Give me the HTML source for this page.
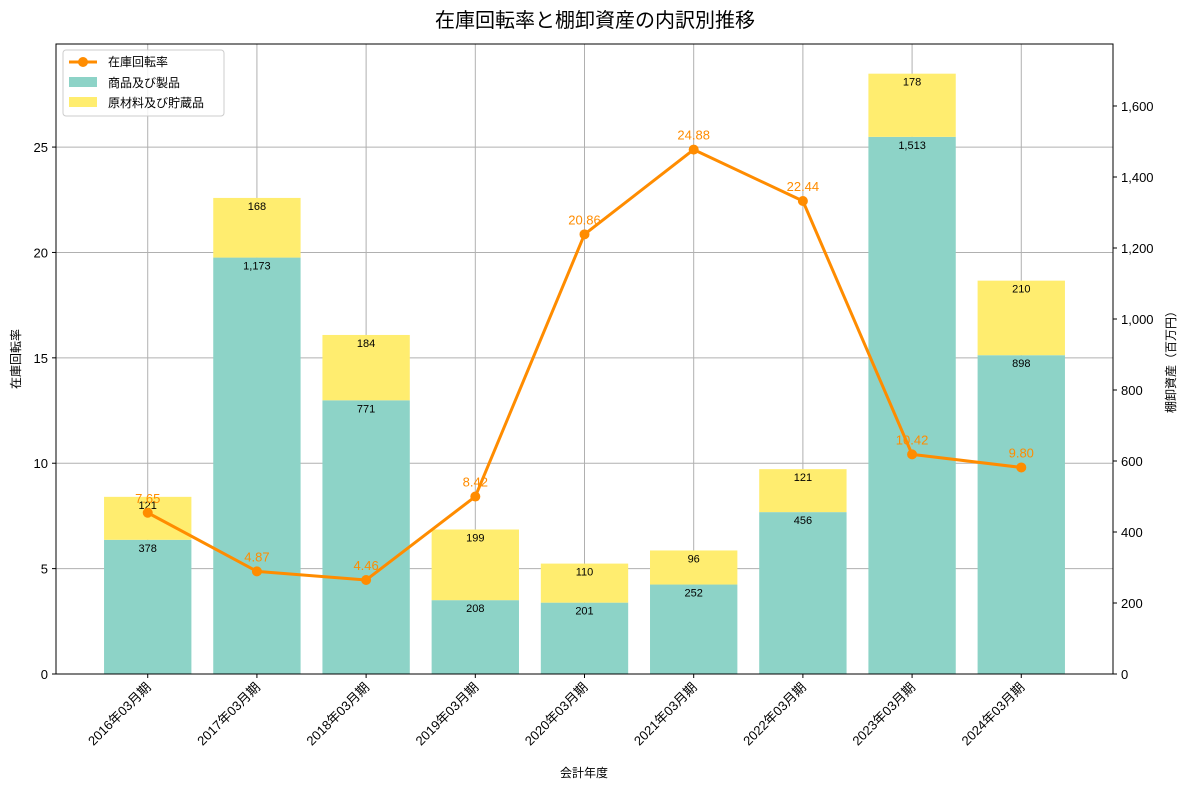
<!DOCTYPE html>
<html><head><meta charset="utf-8">
<style>
body{margin:0;background:#fff;}
svg text{font-family:"Liberation Sans","Noto Sans CJK JP",sans-serif;}
</style></head>
<body>
<svg id="chart" width="1190" height="789" xmlns="http://www.w3.org/2000/svg">
<text x="595" y="27" text-anchor="middle" font-size="20" fill="#000">在庫回転率と棚卸資産の内訳別推移</text>
<g id="grid"></g>
<g id="bars"></g>
<g id="line"></g>
<g id="axes"></g>
</svg>
<script>
const categories=["2016年03月期","2017年03月期","2018年03月期","2019年03月期","2020年03月期","2021年03月期","2022年03月期","2023年03月期","2024年03月期"];
const goods=[378,1173,771,208,201,252,456,1513,898];
const materials=[121,168,184,199,110,96,121,178,210];
const turnover=[7.65,4.87,4.46,8.42,20.86,24.88,22.44,10.42,9.80];
const leftTicks=[0,5,10,15,20,25];
const rightTicks=[0,200,400,600,800,1000,1200,1400,1600];

const L=56,R=1113,T=44,B=674;
const NS="http://www.w3.org/2000/svg";
const xMin=-0.84,xMax=8.84,yLMax=29.89,yRMax=1774.6;
const xs=i=>L+(i-xMin)/(xMax-xMin)*(R-L);
const yl=v=>B-v/yLMax*(B-T);
const yr=v=>B-v/yRMax*(B-T);
const bw=0.8*(R-L)/(xMax-xMin);
function mk(tag,attrs,parent,text){const e=document.createElementNS(NS,tag);for(const k in attrs)e.setAttribute(k,attrs[k]);if(text!==undefined)e.textContent=text;document.getElementById(parent).appendChild(e);return e;}
const fmt=n=>n.toLocaleString('en-US');

// grid
categories.forEach((c,i)=>{const g=mk('line',{x1:xs(i),x2:xs(i),y1:T,y2:B,stroke:'#b0b0b0','stroke-width':1},'grid');
});
leftTicks.forEach(v=>{const g=mk('line',{x1:L,x2:R,y1:yl(v),y2:yl(v),stroke:'#b0b0b0','stroke-width':1},'grid');
});

// bars
categories.forEach((c,i)=>{
 const x=xs(i)-bw/2;
 const g1=mk('rect',{x:x,y:yr(goods[i]),width:bw,height:B-yr(goods[i]),fill:'#8dd3c7'},'bars');
 
 const top=goods[i]+materials[i];
 const g2=mk('rect',{x:x,y:yr(top),width:bw,height:yr(goods[i])-yr(top),fill:'#ffed6f'},'bars');
 
 const t1=mk('text',{x:xs(i),y:yr(goods[i])+12,'text-anchor':'middle','font-size':11,fill:'#000'},'bars',fmt(goods[i]));
 
 const t2=mk('text',{x:xs(i),y:yr(top)+12,'text-anchor':'middle','font-size':11,fill:'#000'},'bars',fmt(materials[i]));
 
});

// line
const pts=turnover.map((v,i)=>xs(i)+','+yl(v)).join(' ');
const pl=mk('polyline',{points:pts,fill:'none',stroke:'#ff8c00','stroke-width':3,'stroke-linejoin':'round'},'line');

turnover.forEach((v,i)=>{
 const c=mk('circle',{cx:xs(i),cy:yl(v),r:5,fill:'#ff8c00'},'line');
 
 const t=mk('text',{x:xs(i),y:yl(v)-10,'text-anchor':'middle','font-size':13,fill:'#ff8c00'},'line',v.toFixed(2));
 
});

// axes frame
const fr=mk('rect',{x:L,y:T,width:R-L,height:B-T,fill:'none',stroke:'#000','stroke-width':1},'axes');

leftTicks.forEach(v=>{
 const k=mk('line',{x1:L-4,x2:L,y1:yl(v),y2:yl(v),stroke:'#000'},'axes');
 
 const t=mk('text',{x:L-8,y:yl(v)+5,'text-anchor':'end','font-size':13},'axes',String(v));
 
});
rightTicks.forEach(v=>{
 const k=mk('line',{x1:R,x2:R+4,y1:yr(v),y2:yr(v),stroke:'#000'},'axes');
 
 const t=mk('text',{x:R+8,y:yr(v)+5,'text-anchor':'start','font-size':13},'axes',fmt(v));
 
});
categories.forEach((c,i)=>{
 const k=mk('line',{x1:xs(i),x2:xs(i),y1:B,y2:B+4,stroke:'#000'},'axes');
 
 const t=mk('text',{x:xs(i)+4,y:B+14,'text-anchor':'end','font-size':13,transform:`rotate(-45 ${xs(i)+4} ${B+14})`},'axes',c);
 
});
let a=mk('text',{x:584,y:777,'text-anchor':'middle','font-size':12},'axes','会計年度');

a=mk('text',{x:20,y:359,'text-anchor':'middle','font-size':12,transform:'rotate(-90 20 359)'},'axes','在庫回転率');

a=mk('text',{x:1175,y:359,'text-anchor':'middle','font-size':12,transform:'rotate(-90 1175 359)'},'axes','棚卸資産（百万円）');


// legend
const lg=mk('rect',{x:63,y:50,width:161,height:66,fill:'#fff','fill-opacity':0.85,stroke:'#ccc',rx:3},'axes');

let e=mk('line',{x1:69,x2:97,y1:62,y2:62,stroke:'#ff8c00','stroke-width':3},'axes');

e=mk('circle',{cx:83,cy:62,r:5,fill:'#ff8c00'},'axes');

e=mk('text',{x:108,y:66,'font-size':12},'axes','在庫回転率');

e=mk('rect',{x:69,y:77,width:28,height:10,fill:'#8dd3c7'},'axes');

e=mk('text',{x:108,y:87,'font-size':12},'axes','商品及び製品');

e=mk('rect',{x:69,y:97,width:28,height:10,fill:'#ffed6f'},'axes');

e=mk('text',{x:108,y:107,'font-size':12},'axes','原材料及び貯蔵品');

</script>
</body></html>
